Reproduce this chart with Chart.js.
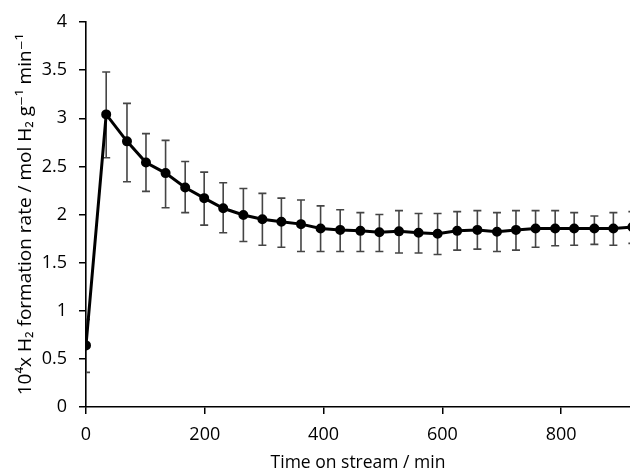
<!DOCTYPE html>
<html><head><meta charset="utf-8">
<script src="https://cdn.jsdelivr.net/npm/chart.js@4"></script>
<style>html,body{margin:0;padding:0;background:#fff}</style>
</head><body>
<canvas id="c" width="630" height="475" style="width:630px;height:475px;display:block"></canvas>
<script>
const timeMin = [0, 34, 69, 101, 134, 167, 199, 231, 265, 297, 329, 362, 395, 428, 462, 494, 527, 560, 592, 625, 659, 692, 724, 757, 790, 822, 856, 888, 920];
const rate = [0.64, 3.04, 2.76, 2.54, 2.43, 2.28, 2.17, 2.065, 1.995, 1.95, 1.925, 1.90, 1.855, 1.84, 1.83, 1.815, 1.825, 1.81, 1.80, 1.83, 1.84, 1.82, 1.84, 1.855, 1.855, 1.855, 1.855, 1.855, 1.87];
const errUpper = [0.91, 3.48, 3.155, 2.84, 2.77, 2.55, 2.44, 2.33, 2.27, 2.22, 2.17, 2.15, 2.09, 2.05, 2.02, 2.00, 2.04, 2.01, 2.01, 2.03, 2.04, 2.02, 2.04, 2.04, 2.04, 2.02, 1.985, 2.02, 2.03];
const errLower = [0.36, 2.59, 2.34, 2.24, 2.07, 2.02, 1.89, 1.81, 1.72, 1.68, 1.66, 1.615, 1.615, 1.615, 1.615, 1.615, 1.60, 1.60, 1.585, 1.63, 1.64, 1.615, 1.63, 1.66, 1.675, 1.68, 1.69, 1.68, 1.70];
const xTicks = [0, 200, 400, 600, 800];
const yTicks = [0, 0.5, 1, 1.5, 2, 2.5, 3, 3.5, 4];
const xTitle = 'Time on stream / min';
const yTitle = '10\u2074x H\u2082 formation rate / mol H\u2082 g\u207B\u00B9 min\u207B\u00B9';

const errorBars = {
  id: 'errorBars',
  beforeDatasetsDraw(chart) {
    const {ctx, chartArea: a, scales: {x, y}} = chart;
    ctx.save();
    ctx.beginPath();
    ctx.rect(a.left, 0, a.right - a.left, chart.height);
    ctx.clip();
    ctx.strokeStyle = '#454545';
    ctx.lineWidth = 1.6;
    for (let i = 0; i < timeMin.length; i++) {
      const px = x.getPixelForValue(timeMin[i]);
      const yt = y.getPixelForValue(errUpper[i]);
      const yb = y.getPixelForValue(errLower[i]);
      ctx.beginPath();
      ctx.moveTo(px, yt); ctx.lineTo(px, yb);
      ctx.moveTo(px - 4, yt); ctx.lineTo(px + 4, yt);
      ctx.moveTo(px - 4, yb); ctx.lineTo(px + 4, yb);
      ctx.stroke();
    }
    ctx.restore();
  }
};

const FONT = '"Open Sans", "DejaVu Sans", sans-serif';
new Chart(document.getElementById('c'), {
  type: 'scatter',
  data: {
    datasets: [{
      data: timeMin.map((t, i) => ({x: t, y: rate[i]})),
      showLine: true,
      borderColor: '#000',
      backgroundColor: '#000',
      borderWidth: 3,
      pointRadius: 3.5,
      pointHoverRadius: 3.5,
      tension: 0
    }]
  },
  options: {
    responsive: false,
    animation: false,
    devicePixelRatio: 1,
    layout: {autoPadding: false, padding: {top: 22, right: 0, left: 0, bottom: 0}},
    plugins: {legend: {display: false}, tooltip: {enabled: false}},
    scales: {
      x: {
        type: 'linear', min: 0, max: 916,
        afterBuildTicks: s => { s.ticks = xTicks.map(v => ({value: v})); },
        afterFit: s => { s.height = 68; s.paddingLeft = 0; s.paddingRight = 0; },
        grid: {display: true, drawOnChartArea: false, drawTicks: true, tickLength: 7, color: '#000', lineWidth: 1.5},
        border: {display: true, color: '#000', width: 1.6},
        ticks: {color: '#000', font: {family: FONT, size: 18}, padding: 10, maxRotation: 0, callback: v => String(v)},
        title: {display: true, text: xTitle, color: '#000', font: {family: FONT, size: 17.5}, padding: {top: 0, bottom: 1}}
      },
      y: {
        type: 'linear', min: 0, max: 4,
        afterBuildTicks: s => { s.ticks = yTicks.map(v => ({value: v})); },
        afterFit: s => { s.width = 86; s.paddingTop = 0; s.paddingBottom = 0; },
        grid: {display: true, drawOnChartArea: false, drawTicks: true, tickLength: 7, color: '#000', lineWidth: 1.5},
        border: {display: true, color: '#000', width: 1.6},
        ticks: {color: '#000', font: {family: FONT, size: 18}, padding: 12, callback: v => String(v)},
        title: {display: true, text: yTitle, color: '#000', font: {family: FONT, size: 19}, padding: {top: 14, bottom: 0}}
      }
    }
  },
  plugins: [errorBars]
});
</script>
</body></html>
